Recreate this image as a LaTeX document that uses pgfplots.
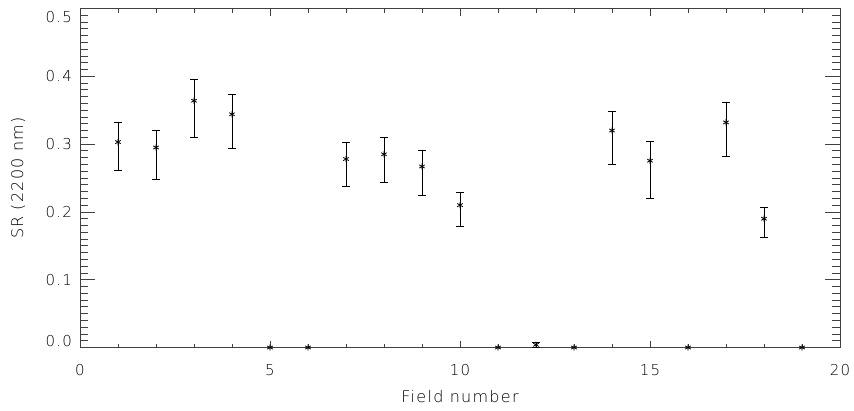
\documentclass[border=0pt]{standalone}
\usepackage{pgfplots}
\pgfplotsset{compat=1.18}
\usepackage{fontspec}
\setmainfont{DejaVu Sans ExtraLight}[LetterSpace=8]
\begin{document}
\begin{tikzpicture}
\path[use as bounding box] (-80pt,-62.5pt) rectangle (774pt,347.5pt);
\begin{axis}[
  at={(0,0)}, anchor=south west,
  scale only axis, width=760pt, height=339pt,
  xmin=0, xmax=20, ymin=0, ymax=0.5,
  xtick={0,5,10,15,20}, minor x tick num=4,
  ytick={0,0.1,0.2,0.3,0.4,0.5}, minor y tick num=9,
  yticklabels={\smash{\raisebox{1.5pt}{0.0}},0.1,0.2,0.3,0.4,\smash{\raisebox{-13.5pt}{0.5}}},
  yticklabel style={anchor=east, inner sep=0pt, xshift=-8pt},
  xticklabel style={anchor=center, inner sep=0pt, yshift=-22.5pt},
  /pgf/number format/assume math mode=true,
  tick align=inside,
  major x tick style={/pgfplots/major tick length=7pt},
  minor x tick style={/pgfplots/minor tick length=4pt},
  major y tick style={/pgfplots/major tick length=15pt},
  minor y tick style={/pgfplots/minor tick length=8pt},
  ticklabel style={font=\fontsize{15}{18}\selectfont, text=black},
  xlabel={Field number},
  ylabel={SR (2200 nm)},
  every axis x label/.style={at={(axis description cs:0.5,0)}, anchor=center, yshift=-49.5pt, font=\fontsize{16}{18}\selectfont, text=black},
  every axis y label/.style={at={(axis description cs:0,0.5)}, anchor=center, rotate=90, yshift=62pt, font=\fontsize{16}{18}\selectfont, text=black},
  axis line style={black!75, line width=0.8pt},
  every tick/.style={black!75, line width=0.8pt},
]
\addplot[black, line width=0.8pt, only marks, mark=asterisk, mark size=3.2pt,
  error bars/.cd, y dir=both, y explicit,
  error bar style={line width=0.8pt},
  error mark options={rotate=90, mark size=4pt, line width=0.8pt}]
  table[x=x, y=y, y error plus=ep, y error minus=em] {
x   y      ep     em
1   0.303  0.029  0.042
2   0.295  0.025  0.0465
3   0.364  0.032  0.054
4   0.344  0.030  0.051
7   0.278  0.024  0.041
8   0.285  0.025  0.042
9   0.267  0.024  0.042
10  0.210  0.019  0.031
12  0.004  0.003  0.004
14  0.320  0.028  0.050
15  0.2755 0.028  0.055
17  0.332  0.029  0.050
18  0.190  0.017  0.028
};
\addplot[black, line width=0.8pt, only marks, mark=asterisk, mark size=3.2pt]
  table[x=x, y=y] {
x   y
5   0
6   0
11  0
13  0
16  0
19  0
};
\end{axis}
\end{tikzpicture}
\end{document}
